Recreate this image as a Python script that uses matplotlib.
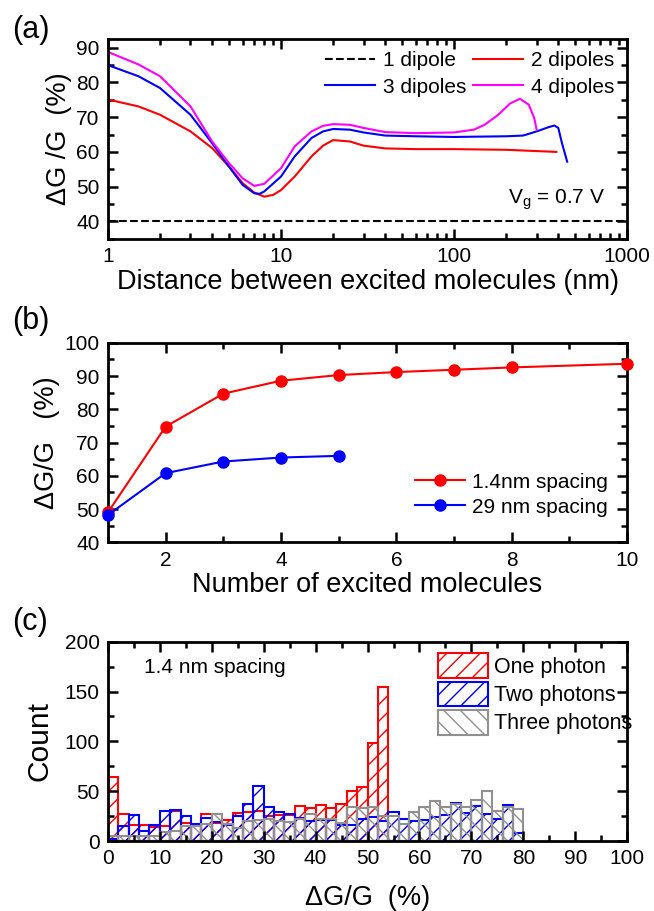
import numpy as np
import matplotlib.pyplot as plt
from matplotlib.ticker import MultipleLocator, FixedLocator, NullFormatter

plt.rcParams['font.family'] = ['Liberation Sans', 'DejaVu Sans']
plt.rcParams['mathtext.fontset'] = 'custom'
plt.rcParams['mathtext.rm'] = 'Liberation Sans'
plt.rcParams['mathtext.it'] = 'Liberation Sans'
plt.rcParams['hatch.linewidth'] = 1.0

# ---- (a) dG/G vs distance between excited molecules
dist_2 = [1, 1.5, 2, 3, 4, 5, 6, 7, 8, 9, 10, 12, 15, 17.5, 20, 25, 30, 40, 60, 100, 200, 390]
dg_2 = [75.1, 73.1, 70.7, 65.9, 61.1, 55.8, 51.0, 48.3, 47.1, 47.6, 49.0, 52.9, 58.7,
        61.8, 63.4, 63.0, 61.8, 61.0, 60.8, 60.8, 60.6, 60.0]
dist_3 = [1, 1.5, 2, 3, 4, 5, 6, 7, 7.5, 8, 10, 12, 15, 17.5, 20, 25, 30, 40, 60, 100, 200,
          250, 300, 350, 380, 400, 420, 450]
dg_3 = [85.0, 81.8, 78.4, 70.7, 62.5, 55.8, 50.5, 48.1, 47.9, 48.6, 52.9, 58.7, 64.0,
        65.9, 66.6, 66.4, 65.6, 64.7, 64.5, 64.3, 64.5, 64.7, 65.9, 67.1, 67.6, 66.9, 62.5, 57.2]
dist_4 = [1, 1.5, 2, 3, 4, 5, 6, 7, 8, 10, 12, 15, 17.5, 20, 25, 30, 40, 60, 100, 130, 150,
          180, 210, 240, 270, 290, 300]
dg_4 = [88.8, 85.2, 81.8, 73.1, 63.0, 56.8, 52.4, 50.2, 50.8, 55.3, 61.6, 65.9, 67.5, 68.0,
        67.8, 66.9, 65.7, 65.4, 65.6, 66.4, 67.8, 70.7, 73.9, 75.3, 73.6, 69.8, 66.4]
dist_1 = [1, 1000]
dg_1 = [40, 40]

# ---- (b) dG/G vs number of excited molecules
n_14 = [1, 2, 3, 4, 5, 6, 7, 8, 10]
dg_14 = [49.0, 74.8, 84.7, 88.6, 90.3, 91.2, 91.9, 92.6, 93.7]
n_29 = [1, 2, 3, 4, 5]
dg_29 = [48.2, 60.8, 64.3, 65.5, 66.0]

# ---- (c) histograms, 2 % bins
bin_width = 2
one_photon = [64, 27, 16, 16, 14, 15, 30, 18, 16, 27, 18, 21, 28, 29, 30, 25, 26, 26,
              35, 33, 36, 33, 37, 50, 54, 98, 155]
two_photons = [2, 15, 26, 10, 16, 30, 31, 25, 17, 23, 19, 16, 25, 37, 55, 34, 29, 27,
               23, 20, 21, 21, 16, 16, 22, 24, 20, 29, 22, 20, 21, 24, 26, 38, 28, 35,
               27, 22, 36, 8]
three_photons = [5, 5, 5, 5, 5, 9, 10, 15, 15, 17, 27, 17, 13, 20, 21, 22, 20, 19, 22,
                 27, 22, 22, 18, 34, 33, 34, 25, 25, 17, 29, 34, 40, 34, 37, 34, 41, 50,
                 30, 34, 32]

fig = plt.figure(figsize=(6.54, 9.11), dpi=100)
ax_a = fig.add_axes([0.165, 0.738, 0.794, 0.2195])
ax_b = fig.add_axes([0.165, 0.4047, 0.794, 0.219])
ax_c = fig.add_axes([0.165, 0.0768, 0.794, 0.2188])

TICK = 15
LABEL = 19.5


def style(ax):
    ax.tick_params(which='both', direction='in', top=True, right=True,
                   labelsize=TICK, width=1.8, pad=6)
    ax.tick_params(which='major', length=7)
    ax.tick_params(which='minor', length=4)
    for s in ax.spines.values():
        s.set_linewidth(2.0)


# (a)
l1, = ax_a.plot(dist_1, dg_1, '--', color='black', lw=1.5, label='1 dipole')
l2, = ax_a.plot(dist_2, dg_2, color='red', lw=1.5, label='2 dipoles')
l3, = ax_a.plot(dist_3, dg_3, color='blue', lw=1.5, label='3 dipoles')
l4, = ax_a.plot(dist_4, dg_4, color='magenta', lw=1.5, label='4 dipoles')
ax_a.set_xscale('log')
ax_a.set_xlim(1, 1000)
ax_a.set_ylim(35, 92.6)
ax_a.set_xticks([1, 10, 100, 1000])
ax_a.set_xticklabels(['1', '10', '100', '1000'])
ax_a.xaxis.set_minor_formatter(NullFormatter())
ax_a.yaxis.set_major_locator(FixedLocator([40, 50, 60, 70, 80, 90]))
ax_a.yaxis.set_minor_locator(MultipleLocator(5))
style(ax_a)
ax_a.set_xlabel('Distance between excited molecules (nm)', fontsize=LABEL, labelpad=2)
ax_a.set_ylabel('ΔG /G  (%)', fontsize=LABEL, labelpad=3)
ax_a.legend([l1, l3, l2, l4], ['1 dipole', '3 dipoles', '2 dipoles', '4 dipoles'],
            ncol=2, loc='upper right', frameon=False, fontsize=15,
            handlelength=2.4, handletextpad=0.4, columnspacing=0.3,
            labelspacing=0.35, borderaxespad=0.2, bbox_to_anchor=(1.0, 1.0))
ax_a.text(750, 46.2, r'V$_\mathregular{g}$ = 0.7 V', fontsize=15, ha='right', va='center')

# (b)
ax_b.plot(n_14, dg_14, '-o', color='red', lw=1.5, ms=8, label='1.4nm spacing',
          clip_on=False, zorder=3)
ax_b.plot(n_29, dg_29, '-o', color='blue', lw=1.5, ms=8, label='29 nm spacing',
          clip_on=False, zorder=3)
ax_b.set_xlim(1, 10)
ax_b.set_ylim(40, 100)
ax_b.set_xticks([2, 4, 6, 8, 10])
ax_b.xaxis.set_minor_locator(MultipleLocator(1))
ax_b.yaxis.set_major_locator(MultipleLocator(10))
ax_b.yaxis.set_minor_locator(MultipleLocator(5))
style(ax_b)
ax_b.set_xlabel('Number of excited molecules', fontsize=LABEL, labelpad=2)
ax_b.set_ylabel('ΔG/G   (%)', fontsize=LABEL, labelpad=3)
ax_b.legend(loc='lower right', frameon=False, fontsize=15, handlelength=2.4,
            handletextpad=0.3, labelspacing=0.3, borderaxespad=0.3,
            bbox_to_anchor=(0.99, 0.055))

# (c)
lefts_1 = np.arange(len(one_photon)) * bin_width
lefts_2 = np.arange(len(two_photons)) * bin_width
lefts_3 = np.arange(len(three_photons)) * bin_width
ax_c.bar(lefts_1, one_photon, width=bin_width, align='edge', facecolor='none',
         edgecolor='red', hatch='//', lw=1.5, label='One photon')
ax_c.bar(lefts_2, two_photons, width=bin_width, align='edge', facecolor='none',
         edgecolor='blue', hatch='//', lw=1.5, label='Two photons')
ax_c.bar(lefts_3, three_photons, width=bin_width, align='edge', facecolor='none',
         edgecolor='#909090', hatch='\\\\', lw=1.5, label='Three photons')
ax_c.set_xlim(0, 100)
ax_c.set_ylim(0, 200)
ax_c.xaxis.set_major_locator(MultipleLocator(10))
ax_c.xaxis.set_minor_locator(MultipleLocator(5))
ax_c.yaxis.set_major_locator(MultipleLocator(50))
ax_c.yaxis.set_minor_locator(MultipleLocator(25))
style(ax_c)
ax_c.set_xlabel('ΔG/G  (%)', fontsize=LABEL, labelpad=12)
ax_c.set_ylabel('Count', fontsize=LABEL + 2, labelpad=8)
ax_c.text(7, 174, '1.4 nm spacing', fontsize=15, ha='left', va='center')
ax_c.legend(loc='upper left', bbox_to_anchor=(0.615, 0.995), frameon=False, fontsize=15.5,
            handlelength=2.3, handleheight=1.4, handletextpad=0.3, labelspacing=0.15,
            borderaxespad=0.1)

for lab, y in [('(a)', 0.967), ('(b)', 0.648), ('(c)', 0.317)]:
    fig.text(0.018, y, lab, fontsize=22, ha='left', va='center')

fig.savefig('out.png', dpi=100)
